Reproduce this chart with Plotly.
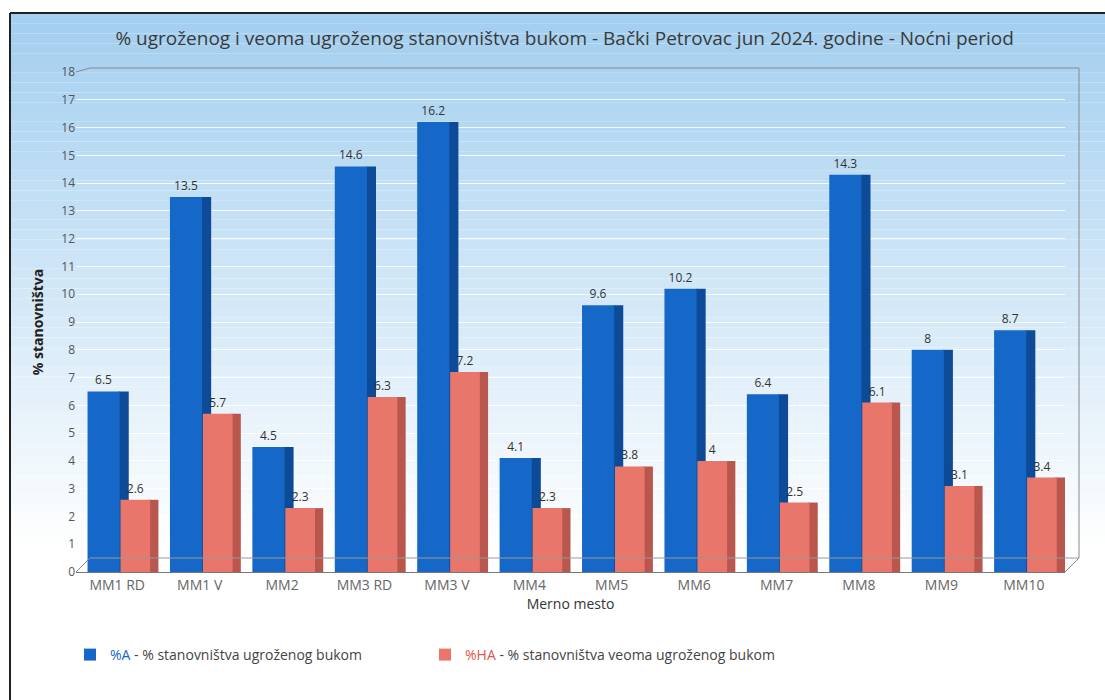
import plotly.graph_objects as go

categories = ["MM1 RD", "MM1 V", "MM2", "MM3 RD", "MM3 V", "MM4", "MM5", "MM6", "MM7", "MM8", "MM9", "MM10"]
pct_a = [6.5, 13.5, 4.5, 14.6, 16.2, 4.1, 9.6, 10.2, 6.4, 14.3, 8, 8.7]
pct_ha = [2.6, 5.7, 2.3, 6.3, 7.2, 2.3, 3.8, 4, 2.5, 6.1, 3.1, 3.4]
y_ticks = list(range(0, 19))

W, H = 1105, 700
L, R, T, B = 76, 40, 72, 128
PW, PH = W - L - R, H - T - B

def px(x):
    return (x - L) / PW

def py(y):
    return (H - B - y) / PH

BLUE = "#1567c8"
BLUE_SIDE = "#0d4a98"
RED = "#e8766b"
RED_SIDE = "#b9574e"

fig = go.Figure()

fig.add_trace(go.Bar(x=categories, y=pct_a, offset=0.02, width=0.12, marker=dict(color=BLUE_SIDE, line=dict(width=0)),
                     showlegend=False, hoverinfo="skip"))
fig.add_trace(go.Bar(x=categories, y=pct_a, offset=-0.36, width=0.39, marker=dict(color=BLUE, line=dict(width=0)),
                     name="<span style='color:#1567c8'>%A</span> - % stanovništva ugroženog bukom",
                     text=[str(v) for v in pct_a], textposition="outside", cliponaxis=False,
                     textfont=dict(size=12, color="#333", family="Open Sans")))
fig.add_trace(go.Bar(x=categories, y=pct_ha, offset=0.38, width=0.12, marker=dict(color=RED_SIDE, line=dict(width=0)),
                     showlegend=False, hoverinfo="skip"))
fig.add_trace(go.Bar(x=categories, y=pct_ha, offset=0.04, width=0.36, marker=dict(color=RED, line=dict(width=0)),
                     name="<span style='color:#e0564b'>%HA</span> - % stanovništva veoma ugroženog bukom",
                     text=[str(v) for v in pct_ha], textposition="outside", cliponaxis=False,
                     textfont=dict(size=12, color="#333", family="Open Sans")))

shapes = []
top_px, bot_px = 14, 700
n = 70
c0 = (163, 207, 240)
c1 = (255, 255, 255)
fade_end = 540
for i in range(n):
    y0 = top_px + (bot_px - top_px) * i / n
    y1 = top_px + (bot_px - top_px) * (i + 1) / n
    t = min(1.0, max(0.0, (y0 - top_px) / (fade_end - top_px)))
    col = tuple(int(c0[k] + (c1[k] - c0[k]) * t) for k in range(3))
    shapes.append(dict(type="rect", xref="paper", yref="paper", x0=px(11), x1=px(W), y0=py(y1), y1=py(y0),
                       fillcolor="rgb(%d,%d,%d)" % col, line=dict(width=0), layer="below"))
shapes.append(dict(type="line", xref="paper", yref="paper", x0=px(10), x1=px(10), y0=py(13), y1=py(H),
                   line=dict(color="#222", width=2)))
shapes.append(dict(type="line", xref="paper", yref="paper", x0=px(10), x1=px(W), y0=py(13), y1=py(13),
                   line=dict(color="#222", width=2)))
D = 14
shapes.append(dict(type="line", xref="paper", yref="paper", x0=0, x1=px(L + D), y0=1, y1=py(T - 4),
                   line=dict(color="#888", width=1)))
shapes.append(dict(type="line", xref="paper", yref="paper", x0=px(L + D), x1=1.0 + D / PW, y0=py(T - 4), y1=py(T - 4),
                   line=dict(color="#888", width=1)))
shapes.append(dict(type="line", xref="paper", yref="paper", x0=1.0 + D / PW, x1=1.0 + D / PW, y0=py(T - 4), y1=py(H - B - D),
                   line=dict(color="#888", width=1)))
shapes.append(dict(type="line", xref="paper", yref="paper", x0=1.0, x1=1.0 + D / PW, y0=0, y1=py(H - B - D),
                   line=dict(color="#888", width=1)))
shapes.append(dict(type="line", xref="paper", yref="paper", x0=0, x1=px(L + D), y0=0, y1=py(H - B - D),
                   line=dict(color="#888", width=1)))
shapes.append(dict(type="line", xref="paper", yref="paper", x0=px(L + D), x1=1.0 + D / PW, y0=py(H - B - D), y1=py(H - B - D),
                   line=dict(color="#999", width=1)))

fig.update_layout(
    width=W, height=H,
    margin=dict(l=L, r=R, t=T, b=B),
    paper_bgcolor="white",
    plot_bgcolor="rgba(0,0,0,0)",
    barmode="overlay",
    font=dict(family="Open Sans", color="#333"),
    title=dict(text="% ugroženog i veoma ugroženog stanovništva bukom - Bački Petrovac jun 2024. godine - Noćni period",
               x=0.511, xanchor="center", y=1 - 38 / H, yanchor="middle",
               font=dict(size=19, color="#3a3a3a", family="Open Sans")),
    xaxis=dict(title=dict(text="Merno mesto", font=dict(size=14, color="#333"), standoff=4),
               tickfont=dict(size=14, color="#666"), showline=True, linecolor="#777", linewidth=1,
               showgrid=False, ticks=""),
    yaxis=dict(title=dict(text="<b>% stanovništva</b>", font=dict(size=14, color="#222"), standoff=14),
               range=[0, 18], tickvals=y_ticks, ticktext=[str(v) for v in y_ticks],
               tickfont=dict(size=12, color="#555"), showgrid=True, gridcolor="rgba(255,255,255,0.85)",
               showline=False, zeroline=False, ticks=""),
    legend=dict(orientation="h", x=px(70), y=py(655), xanchor="left", yanchor="middle",
                font=dict(size=14, color="#444"), traceorder="normal", itemwidth=30,
                entrywidth=310, entrywidthmode="pixels"),
    shapes=shapes,
)

fig.write_html("out.html", post_script="document.body.style.margin='0';",
               config={"displayModeBar": False})
